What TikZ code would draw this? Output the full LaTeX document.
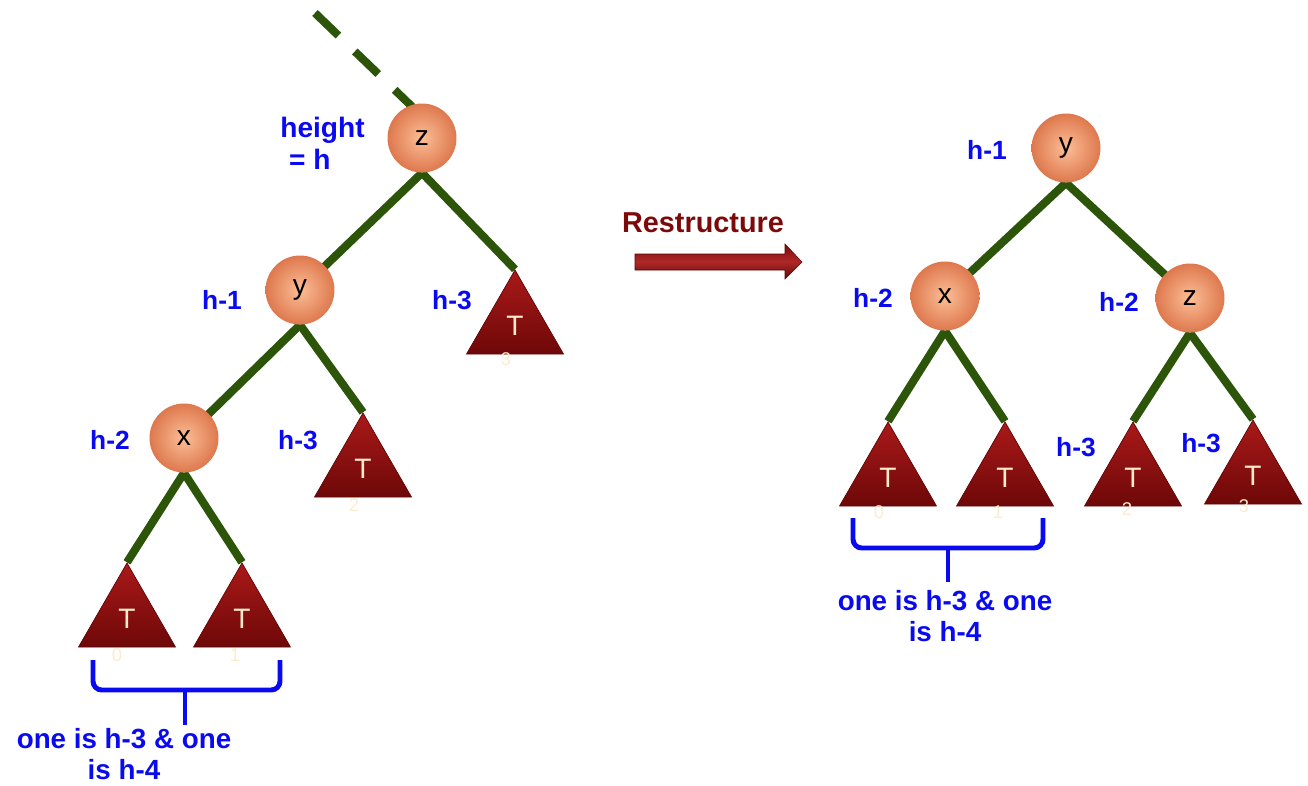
\documentclass[tikz,border=0pt]{standalone}
\usepackage{fontspec}
\setmainfont{Liberation Sans}
\usetikzlibrary{shapes.geometric}
\pgfdeclarelayer{bg}
\pgfsetlayers{bg,main}
\definecolor{edgegreen}{RGB}{45,85,10}
\definecolor{lblblue}{RGB}{10,10,240}
\definecolor{ballin}{RGB}{252,190,150}
\definecolor{ballout}{RGB}{222,120,78}
\definecolor{tritop}{RGB}{170,25,25}
\definecolor{tribot}{RGB}{110,8,8}
\definecolor{tridraw}{RGB}{95,5,5}
\definecolor{cream}{RGB}{252,236,205}
\definecolor{restr}{RGB}{125,10,10}
\definecolor{arrmid}{RGB}{175,40,40}
\tikzset{
  ballnode/.style={circle, minimum size=1.38cm, inner sep=0pt, inner color=ballin, outer color=ballout, font=\fontsize{16}{18}\selectfont, text=black},
  trinode/.style={regular polygon, regular polygon sides=3, minimum size=2.24cm, inner sep=0pt, top color=tritop, bottom color=tribot, draw=tridraw, line width=0.4pt, text=cream, font=\fontsize{16}{18}\selectfont},
  sub/.style={font=\fontsize{10.5}{11}\selectfont, text=cream, inner sep=0pt},
  hlabel/.style={text=lblblue, font=\bfseries\fontsize{15}{17}\selectfont, inner sep=0pt},
  note/.style={text=lblblue, font=\bfseries\fontsize{15.8}{18}\selectfont, align=center, inner sep=0pt},
  edge/.style={draw=edgegreen, line width=4.6pt},
  brace/.style={draw=lblblue, line width=2.8pt, rounded corners=5pt},
}
\begin{document}
\begin{tikzpicture}[x=0.02cm, y=-0.02cm]
\useasboundingbox (0,0) rectangle (1308,785);

% ---------- left tree ----------
\node[ballnode] (zL) at (422,138) {z};
\node[ballnode] (yL) at (300,290) {y};
\node[ballnode] (xL) at (184,438) {x};
\node[trinode] (t0L) at (127,619) {T};
\node[trinode] (t1L) at (242,619) {T};
\node[trinode] (t2L) at (363,469) {T};
\node[trinode] (t3L) at (515,326) {T};
\node[sub] (s0L) at (117,655) {0};
\node[sub] (s1L) at (235,655) {1};
\node[sub] (s2L) at (354,505) {2};
\node[sub] (s3L) at (506,359) {3};
\coordinate (dashstart) at (315,13);
\coordinate (dashend) at (428,122);

\node[hlabel, align=left, anchor=north west, font=\bfseries\fontsize{16}{18}\selectfont] (hgt) at (280,117) {height\\\hspace{5pt}= h};
\node[hlabel] (lyL) at (222,300) {h-1};
\node[hlabel] (l3L) at (452,300) {h-3};
\node[hlabel] (lxL) at (110,440) {h-2};
\node[hlabel] (l2L) at (298,440) {h-3};

\begin{pgfonlayer}{bg}
\draw[edge, dash pattern=on 18.5pt off 13pt] (dashstart) -- (dashend);
\draw[edge] (zL.south) -- (yL.center);
\draw[edge] (zL.south) -- (t3L.corner 1);
\draw[edge] (yL.south) -- (xL.center);
\draw[edge] (yL.south) -- (t2L.corner 1);
\draw[edge] (xL.south) -- (t0L.corner 1);
\draw[edge] (xL.south) -- (t1L.corner 1);
\end{pgfonlayer}

\coordinate (bLa) at (93,660);
\coordinate (bLb) at (280,660);
\coordinate (bLm) at (185,690);
\coordinate (bLs) at (185,725);
\draw[brace] (bLa) -- (93,690) -- (280,690) -- (bLb);
\draw[brace] (bLm) -- (bLs);
\node[note] (nL) at (124,754) {one is h-3 \& one\\is h-4};

% ---------- arrow ----------
\node[text=restr, font=\bfseries\fontsize{16.4}{18}\selectfont, inner sep=0pt] (restr) at (703,223) {Restructure};
\shade[top color=restr, bottom color=restr!80!black, middle color=arrmid, draw=restr!70!black, line width=0.3pt]
  (635,254) -- (785,254) -- (785,244) -- (802,262) -- (785,279) -- (785,270) -- (635,270) -- cycle;

% ---------- right tree ----------
\node[ballnode] (yR) at (1066,148) {y};
\node[ballnode] (xR) at (945,296) {x};
\node[ballnode] (zR) at (1190,298) {z};
\node[trinode] (t0R) at (888,478) {T};
\node[trinode] (t1R) at (1005,478) {T};
\node[trinode] (t2R) at (1133,478) {T};
\node[trinode] (t3R) at (1253,476) {T};
\node[sub] (s0R) at (879,512) {0};
\node[sub] (s1R) at (998,512) {1};
\node[sub] (s2R) at (1127,509) {2};
\node[sub] (s3R) at (1244,506) {3};

\node[hlabel] (lyR) at (987,150) {h-1};
\node[hlabel] (lxR) at (873,298) {h-2};
\node[hlabel] (lzR) at (1119,302) {h-2};
\node[hlabel] (l2R) at (1076,447) {h-3};
\node[hlabel] (l3R) at (1201,443) {h-3};

\begin{pgfonlayer}{bg}
\draw[edge] (yR.south) -- (xR.center);
\draw[edge] (yR.south) -- (zR.center);
\draw[edge] (xR.south) -- (t0R.corner 1);
\draw[edge] (xR.south) -- (t1R.corner 1);
\draw[edge] (zR.south) -- (t2R.corner 1);
\draw[edge] (zR.south) -- (t3R.corner 1);
\end{pgfonlayer}

\coordinate (bRa) at (853,518);
\coordinate (bRb) at (1043,518);
\coordinate (bRm) at (948,548);
\coordinate (bRs) at (948,582);
\draw[brace] (bRa) -- (853,548) -- (1043,548) -- (bRb);
\draw[brace] (bRm) -- (bRs);
\node[note] (nR) at (945,616) {one is h-3 \& one\\is h-4};
\end{tikzpicture}
\end{document}
